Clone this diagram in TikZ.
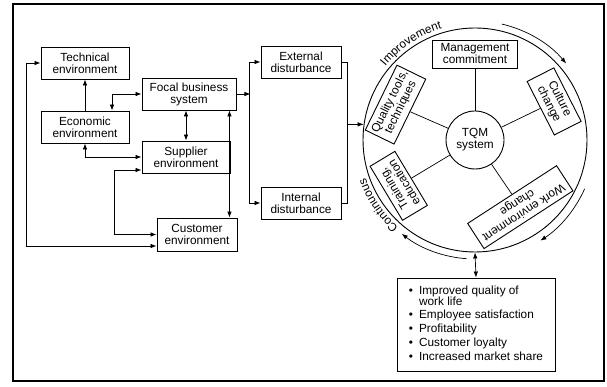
\documentclass[tikz,border=0pt]{standalone}
\usepackage{fontspec}
\setmainfont{Liberation Sans}
\usetikzlibrary{arrows.meta,calc,decorations.text}

\tikzset{
  >={Latex[length=6pt,width=4.5pt]},
  envbox/.style={draw, line width=.9pt, align=center, minimum height=32, inner sep=2pt},
  tqmbox/.style={draw, line width=.9pt, align=center, inner sep=2pt},
  link/.style={line width=.7pt},
}

\begin{document}
\begin{tikzpicture}[x=1pt,y=1pt,font=\fontsize{11.8}{12}\selectfont]
\useasboundingbox (0,0) rectangle (607,387);
\draw[line width=1.2pt] (13,6) rectangle (604,383);

% environment of the firm
\node[envbox, minimum width=88] (tech) at (85,324) {Technical\\environment};
\node[envbox, minimum width=88] (econ) at (85,260) {Economic\\environment};
\node[envbox, minimum width=94] (focal) at (189,293) {Focal business\\system};
\node[envbox, minimum width=88] (supp) at (186,230) {Supplier\\environment};
\node[envbox, minimum width=80, minimum height=33] (cust) at (197,152.5) {Customer\\environment};
\node[envbox, minimum width=80] (ext) at (301,325) {External\\disturbance};
\node[envbox, minimum width=80] (int) at (301,184) {Internal\\disturbance};

% TQM wheel
\coordinate (c) at (475,247);
\node[circle, draw, line width=.9pt, minimum size=224, inner sep=0] (big) at (c) {};
\node[circle, draw, line width=.9pt, minimum size=58, inner sep=0, align=center] (tqm) at (c) {TQM\\system};

\node[tqmbox, minimum width=85, minimum height=28] (mgmt) at ($(c)+(90:86)$) {Management\\commitment};
\node[tqmbox, minimum width=60, minimum height=30, rotate=-63] (cult) at ($(c)+(26:88)$) {Culture\\change};
\node[tqmbox, minimum width=106, minimum height=30, rotate=-147] (work) at ($(c)+(-56:81)$) {Work environment\\change};
\node[tqmbox, minimum width=63, minimum height=29, rotate=121] (train) at ($(c)+(211:89)$) {Training,\\education};
\node[tqmbox, minimum width=70, minimum height=32, rotate=64] (qual) at ($(c)+(156:87)$) {Quality tools,\\techniques};

\foreach \b in {mgmt,cult,work,train,qual}
  \draw[link] (tqm) -- (\b.south);

\draw[link,->] ($(c)+(77:119)$) arc[start angle=77, end angle=40, radius=119];
\draw[link,->] ($(c)+(-24:120)$) arc[start angle=-24, end angle=-57, radius=120];
\draw[link,->] ($(c)+(-94:119)$) arc[start angle=-94, end angle=-128, radius=119];

\path[decorate, decoration={text along path, text align=center,
  text={|\fontsize{11.8}{12}\selectfont|Improvement}}]
  ($(c)+(141:116)$) arc[start angle=141, end angle=106, radius=116];
\path[decorate, decoration={text along path, text align=center,
  text={|\fontsize{11.8}{12}\selectfont|Continuous}}]
  ($(c)+(229:116)$) arc[start angle=229, end angle=199, radius=116];

% outcomes
\node[draw, line width=.9pt, minimum width=158, minimum height=93] (result) at (476,62.5)
  {\renewcommand{\arraystretch}{1.15}%
   \begin{tabular}{@{}l@{\hspace{6pt}}l@{}}
   \textbullet & Improved quality of\\[-3pt]
               & work life\\
   \textbullet & Employee satisfaction\\
   \textbullet & Profitability\\
   \textbullet & Customer loyalty\\
   \textbullet & Increased market share
   \end{tabular}};

% connectors
\draw[link,<->] (tech.west) -- ++(-14,0) |- ($(cust.west)+(0,-11.5)$);
\draw[link,->] (econ) -- (tech);
\draw[link,<->] ($(econ.north)+(27,0)$) |- (focal.west);
\draw[link,<->] (econ.south) |- (supp.west);
\draw[link,<->] (supp.north) -- (supp.north |- focal.south);
\draw[link,<->] ($(supp.west)+(0,-13)$) -- ++(-27,0) |- (cust.west);
\coordinate (fc) at ($(focal.south east)+(-7,0)$);
\draw[link,<->] (fc) -- (fc |- cust.north);
\draw[link,->] (focal.east) -- ++(14,0);
\draw[link,<->] (ext.west) -- ++(-11,0) |- (int.west);
\coordinate (merge) at ($(ext.east)+(6,0)$);
\draw[link] (ext.east) -- (merge) |- (int.east);
\draw[link,->] (merge |- big.172) -- (big.172);
\draw[link,<->] (big.south) -- (result.north);

\end{tikzpicture}
\end{document}
